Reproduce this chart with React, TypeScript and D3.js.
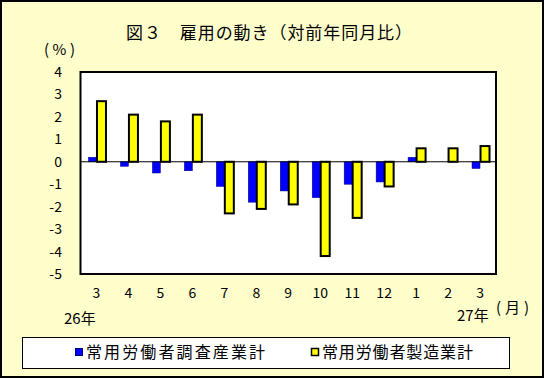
import React from "react";
import * as d3 from "d3";

const months = ["3", "4", "5", "6", "7", "8", "9", "10", "11", "12", "1", "2", "3"];
const allIndustries = [0.2, -0.2, -0.5, -0.4, -1.1, -1.8, -1.3, -1.6, -1.0, -0.9, 0.2, 0.0, -0.3];
const manufacturing = [2.7, 2.1, 1.8, 2.1, -2.3, -2.1, -1.9, -4.2, -2.5, -1.1, 0.6, 0.6, 0.7];
const yTicks = [4, 3, 2, 1, 0, -1, -2, -3, -4, -5];
const seriesNames = ["常用労働者調査産業計", "常用労働者製造業計"];

const W = 544, H = 378;
const plot = { l: 80.5, r: 496, t: 72, b: 274 };
const FONT = "'Noto Sans CJK JP', 'Noto Sans', sans-serif";

export default function App() {
  const x = d3.scaleBand<number>().domain(d3.range(months.length)).range([plot.l, plot.r]);
  const y = d3.scaleLinear().domain([-5, 4]).range([plot.b, plot.t]);
  const y0 = y(0);
  const fmt = (v: number) => (v < 0 ? "-" + Math.abs(v) : String(v));
  return (
    <svg width={W} height={H} style={{ position: "absolute", left: 0, top: 0 }} fontFamily={FONT}>
      <rect x={1} y={1} width={W - 2} height={H - 2} fill="#FFFFCC" stroke="#000" strokeWidth={2} />
      <text x={126} y={39} fontSize={17} textLength={286} lengthAdjust="spacing">図３　雇用の動き（対前年同月比）</text>
      <text x={44} y={55} fontSize={15} textLength={31} lengthAdjust="spacing">(%)</text>
      <rect x={plot.l} y={plot.t} width={plot.r - plot.l} height={plot.b - plot.t} fill="#fff" />
      {yTicks.map((t) => (
        <text key={t} x={62} y={y(t) + 5} textAnchor="end" fontSize={14}>{fmt(t)}</text>
      ))}
      {months.map((m, i) => {
        const c = x(i)! + x.bandwidth() / 2;
        const a = allIndustries[i];
        const b = manufacturing[i];
        return (
          <g key={i}>
            {a !== 0 && (
              <rect x={c - 8} y={Math.min(y(a), y0)} width={8} height={Math.abs(y(a) - y0)}
                fill="#0000FF" stroke="#000080" strokeWidth={0.5} />
            )}
            <rect x={c + 0.5} y={Math.min(y(b), y0)} width={9} height={Math.abs(y(b) - y0)}
              fill="#FFFF00" stroke="#000" strokeWidth={2} />
            <text x={c} y={298} textAnchor="middle" fontSize={14}>{m}</text>
          </g>
        );
      })}
      <line x1={plot.l} x2={plot.r} y1={y0} y2={y0} stroke="#000" strokeWidth={1} />
      <rect x={plot.l} y={plot.t} width={plot.r - plot.l} height={plot.b - plot.t} fill="none" stroke="#000" strokeWidth={2} />
      <text x={64} y={324} fontSize={15}>26年</text>
      <text x={457} y={321} fontSize={15}>27年</text>
      <text x={496} y={313} fontSize={15} textLength={33} lengthAdjust="spacing">(月)</text>
      <rect x={22.5} y={337.5} width={487} height={31} fill="#fff" stroke="#000" strokeWidth={1} />
      <rect x={75.5} y={348.5} width={7} height={7} fill="#0000FF" stroke="#000080" strokeWidth={1} />
      <text x={86} y={358} fontSize={16} textLength={179} lengthAdjust="spacing">{seriesNames[0]}</text>
      <rect x={311.5} y={348.5} width={7} height={7} fill="#FFFF00" stroke="#000" strokeWidth={1.5} />
      <text x={322} y={358} fontSize={16} textLength={151} lengthAdjust="spacing">{seriesNames[1]}</text>
    </svg>
  );
}
